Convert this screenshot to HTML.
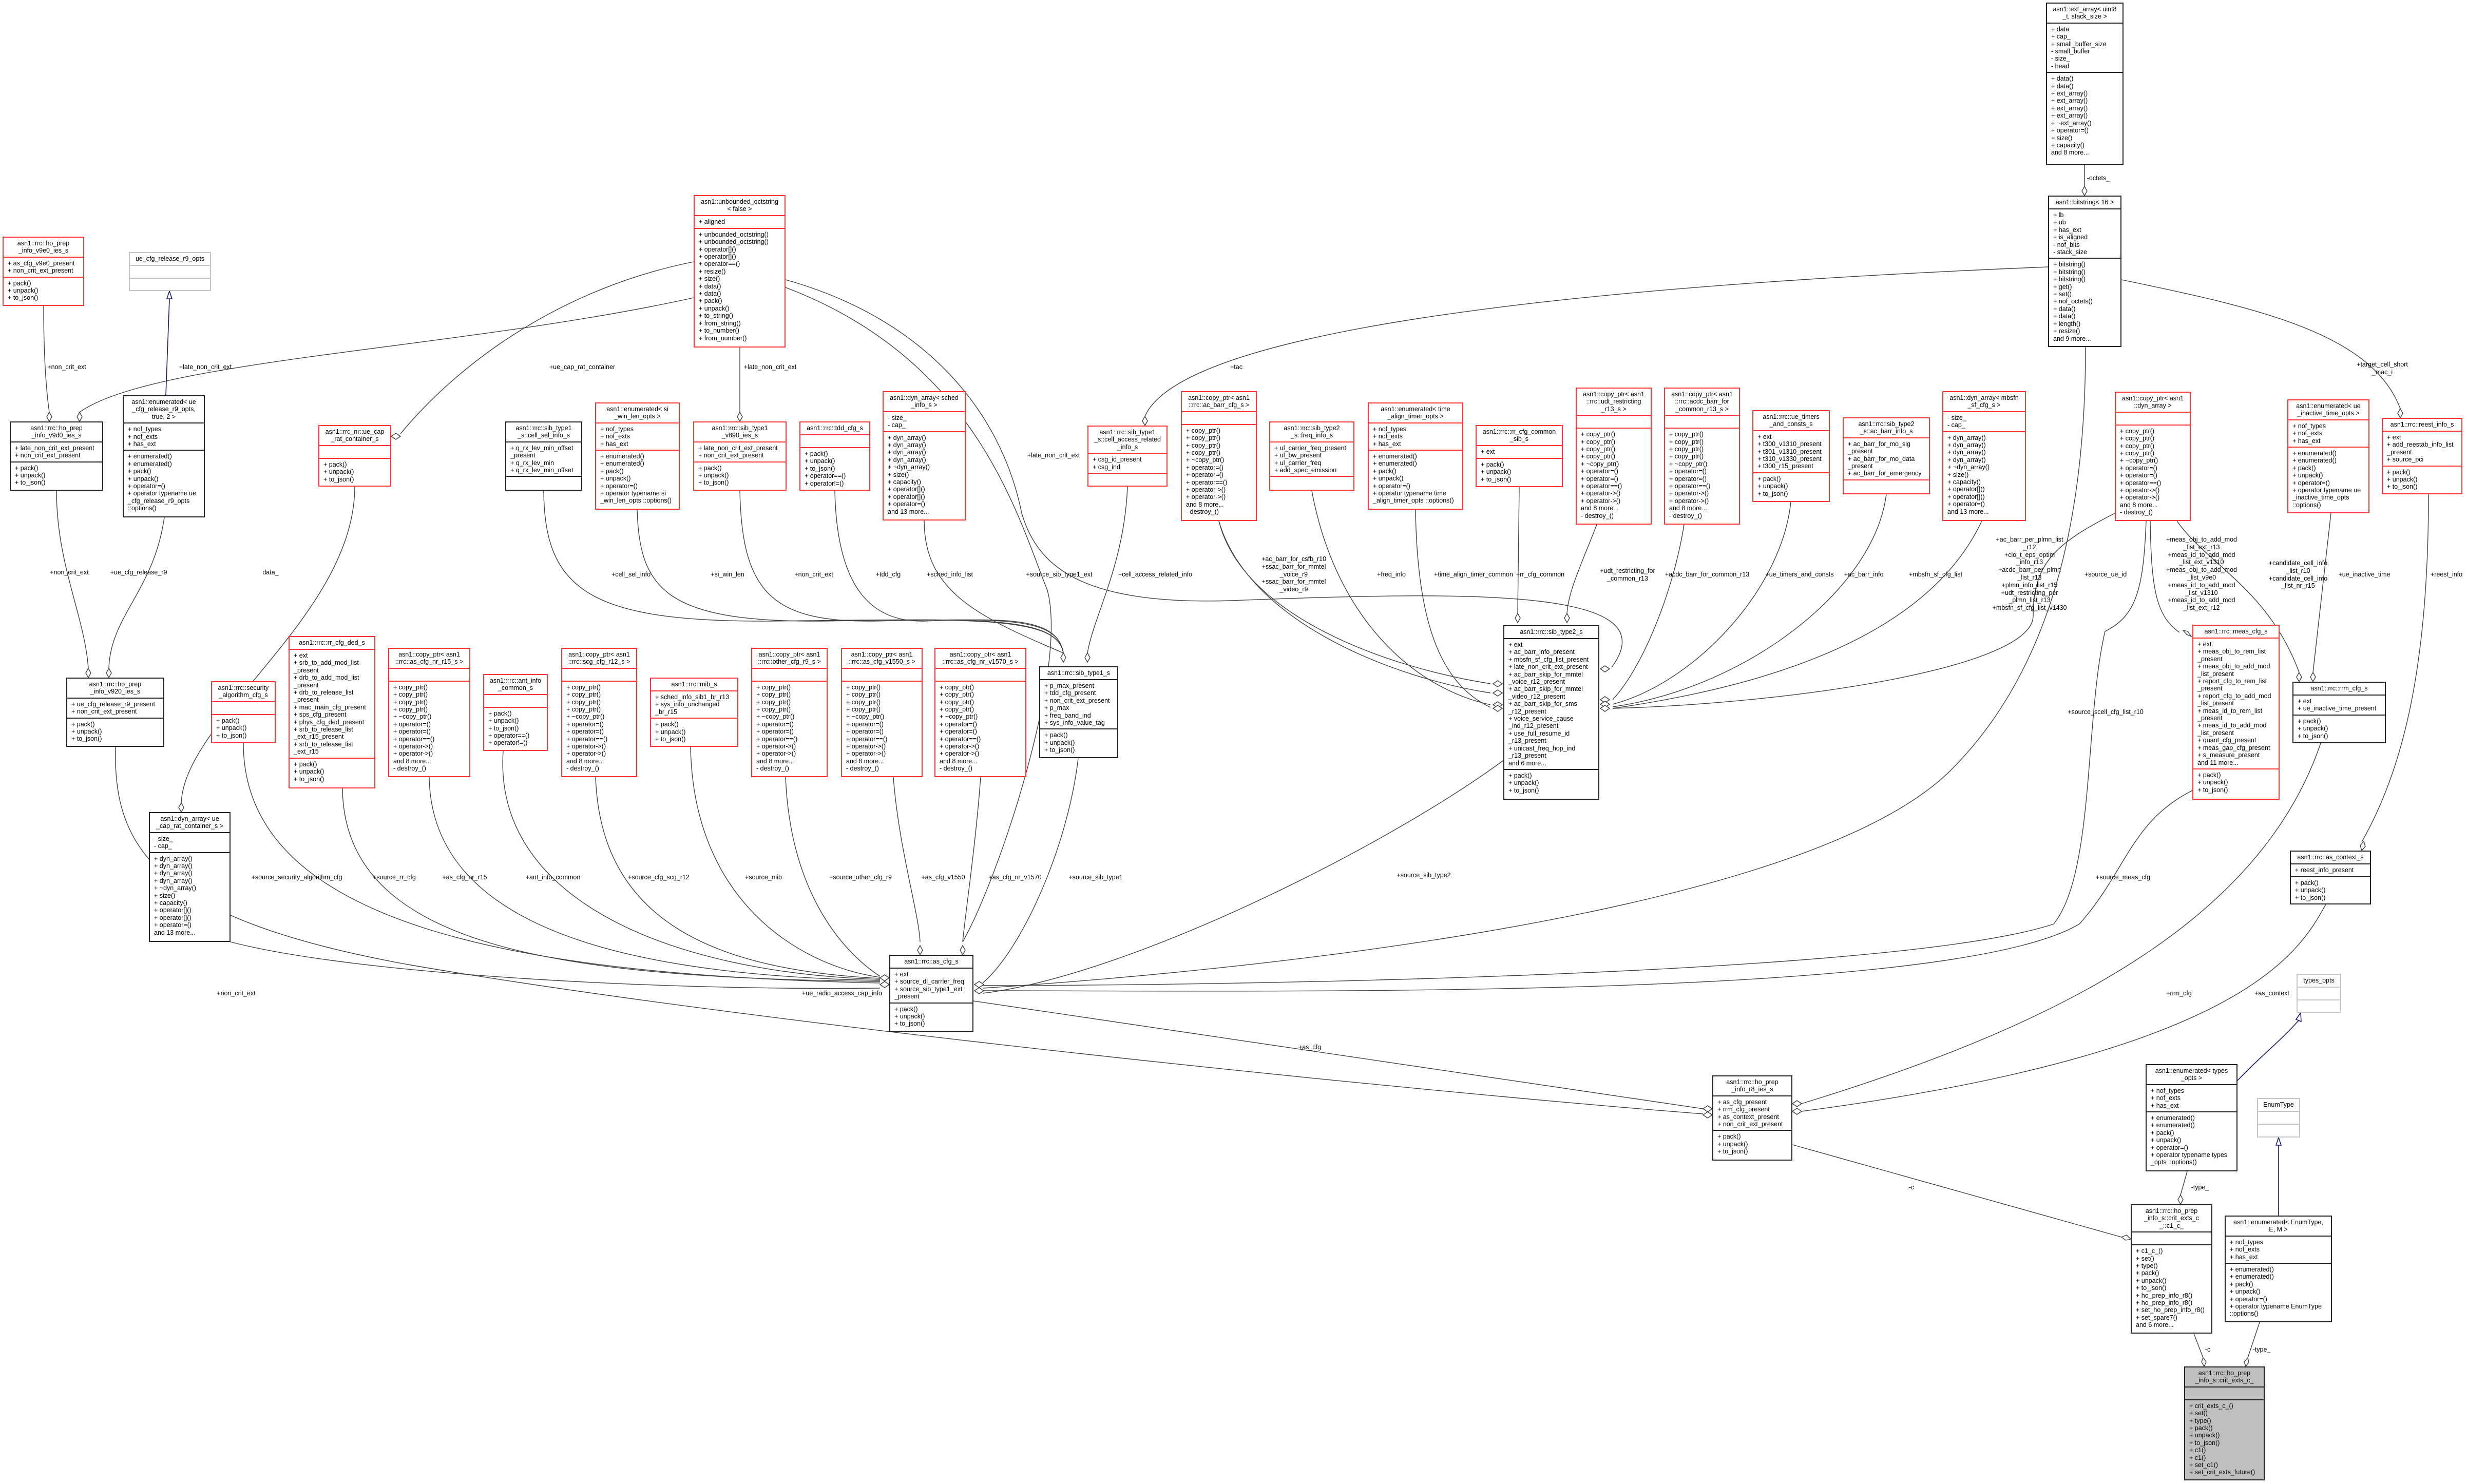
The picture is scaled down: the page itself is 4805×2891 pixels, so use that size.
<!DOCTYPE html>
<html><head><meta charset="utf-8"><style>
body{margin:0;width:4805px;height:2891px;position:relative;background:#fff;overflow:hidden}
.b{position:absolute;display:flex;flex-direction:column;border:2px solid #222;background:#fff;box-sizing:border-box;font:12.5px/14.4px "Liberation Sans",sans-serif;color:#000;overflow:hidden}
.r{border-color:#f33}
.g{border-color:#c4c4c4}
.x{background:#bfbfbf}
.b>div{padding:4px 8px;white-space:nowrap;border-top:2px solid;border-color:inherit;min-height:15px}
.b>div:first-child{border-top:0;text-align:center}
.b>div:last-child{flex:1}
.l{position:absolute;font:12.5px/14.8px "Liberation Sans",sans-serif;white-space:nowrap;text-align:center;transform:translateX(-50%)}
svg{position:absolute;left:0;top:0}
</style></head><body>
<svg width="4805" height="2891" viewBox="0 0 4805 2891">
<g fill="none" stroke="#404040" stroke-width="1.4">
<path d="M85,596 C85,700 90,760 96,803"/>
<path d="M1351,580 C900,680 300,700 155,803"/>
<path d="M110,956 C110,1100 165,1200 172,1302"/>
<path d="M320,1008 C300,1150 215,1200 212,1302"/>
<path d="M1351,510 C1100,560 900,700 780,845"/>
<path d="M691,948 C690,1200 360,1400 353,1564"/>
<path d="M1441,677 L1441,803"/>
<path d="M1530,545 C1800,620 1950,800 1990,1000 C2020,1100 2100,1180 2400,1170 C2900,1150 3250,1150 3139,1300"/>
<path d="M1530,560 C1900,700 1980,1000 2040,1150 C2080,1300 1950,1700 1875,1835"/>
<path d="M1059,956 C1060,1150 1150,1212 1500,1210 C1900,1205 2060,1200 2071,1272"/>
<path d="M1241,993 C1245,1150 1300,1212 1600,1210 C1900,1205 2060,1200 2071,1272"/>
<path d="M1441,956 C1445,1150 1500,1212 1700,1210 C1950,1205 2060,1200 2071,1272"/>
<path d="M1626,956 C1630,1150 1700,1212 1800,1210 C1950,1205 2060,1200 2071,1272"/>
<path d="M1800,1014 C1800,1150 1900,1200 2071,1272"/>
<path d="M2196,948 C2190,1100 2130,1200 2118,1272"/>
<path d="M2374,1015 C2420,1200 2700,1300 2903,1332"/>
<path d="M2374,1015 C2430,1210 2710,1320 2903,1350"/>
<path d="M2555,956 C2600,1200 2750,1340 2903,1373"/>
<path d="M2757,993 C2760,1200 2800,1330 2903,1378"/>
<path d="M2959,949 C2958,1050 2956,1150 2956,1195"/>
<path d="M3110,1022 C3080,1100 3055,1150 3052,1195"/>
<path d="M3280,1022 C3260,1150 3200,1300 3141,1363"/>
<path d="M3488,978 C3470,1150 3300,1330 3141,1372"/>
<path d="M3674,963 C3650,1150 3400,1340 3141,1377"/>
<path d="M3860,1015 C3820,1100 3700,1300 3141,1380"/>
<path d="M4119,1000 C4000,1060 3960,1100 3960,1200 C3960,1300 3500,1370 3141,1380"/>
<path d="M3989,520 C3000,560 2300,650 2230,811"/>
<path d="M4132,545 C4400,600 4620,650 4675,796"/>
<path d="M4060,321 L4060,363"/>
<path d="M4062,676 C4062,1000 4000,1300 3800,1500 C3500,1800 2300,1900 1914,1925"/>
<path d="M4188,1015 C4190,1150 4200,1200 4245,1232"/>
<path d="M4240,1015 C4300,1100 4420,1150 4478,1310"/>
<path d="M4180,1015 C4175,1150 4160,1200 4100,1230 C4060,1400 4080,1700 4000,1800 C3700,1900 2400,1920 1914,1920"/>
<path d="M4540,1000 L4505,1310"/>
<path d="M4730,963 C4730,1300 4680,1500 4600,1640"/>
<path d="M4270,1540 C4150,1600 4140,1700 4050,1800 C3800,1950 2500,1930 1914,1930"/>
<path d="M2930,1480 C2700,1650 2200,1900 1914,1935"/>
<path d="M2100,1477 C2080,1650 1990,1850 1914,1915"/>
<path d="M4520,1448 C4400,1800 4000,2000 3509,2150"/>
<path d="M4530,1762 C4480,1850 4380,2050 3509,2165"/>
<path d="M1896,1950 L3317,2160"/>
<path d="M225,1455 C220,1650 300,1790 800,1880 C1500,2000 2800,2130 3317,2170"/>
<path d="M474,1448 C474,1800 1000,1900 1714,1915"/>
<path d="M667,1536 C670,1850 1100,1905 1714,1912"/>
<path d="M836,1514 C840,1800 1200,1900 1714,1910"/>
<path d="M980,1463 C960,1750 1300,1895 1714,1908"/>
<path d="M1160,1514 C1170,1800 1400,1890 1714,1906"/>
<path d="M1345,1455 C1350,1750 1550,1880 1714,1904"/>
<path d="M1530,1514 C1540,1750 1650,1860 1714,1902"/>
<path d="M1740,1514 C1750,1650 1790,1780 1792,1835"/>
<path d="M1910,1514 C1900,1650 1880,1780 1875,1835"/>
<path d="M449,1835 C700,1900 1300,1930 1714,1925"/>
<path d="M3491,2230 L4132,2410"/>
<path d="M4260,2282 L4247,2328"/>
<path d="M4273,2598 L4291,2645"/>
<path d="M4401,2576 L4378,2645"/>
</g>
<g fill="#fff" stroke="#404040" stroke-width="1.4">
<polygon points="96,821 91,812 96,803 101,812"/>
<polygon points="155,821 150,812 155,803 160,812"/>
<polygon points="172,1320 167,1311 172,1302 177,1311"/>
<polygon points="212,1320 207,1311 212,1302 217,1311"/>
<polygon points="762,850 771,844 780,850 771,856"/>
<polygon points="353,1582 348,1573 353,1564 358,1573"/>
<polygon points="1441,821 1436,812 1441,803 1446,812"/>
<polygon points="3117,1303 3126,1297 3135,1303 3126,1309"/>
<polygon points="2071,1290 2066,1281 2071,1272 2076,1281"/>
<polygon points="2118,1290 2113,1281 2118,1272 2123,1281"/>
<polygon points="2956,1213 2951,1204 2956,1195 2961,1204"/>
<polygon points="3052,1213 3047,1204 3052,1195 3057,1204"/>
<polygon points="2926,1332 2917,1326 2908,1332 2917,1338"/>
<polygon points="2926,1350 2917,1344 2908,1350 2917,1356"/>
<polygon points="2926,1373 2917,1367 2908,1373 2917,1379"/>
<polygon points="2926,1380 2917,1374 2908,1380 2917,1386"/>
<polygon points="3117,1363 3126,1357 3135,1363 3126,1369"/>
<polygon points="3117,1372 3126,1366 3135,1372 3126,1378"/>
<polygon points="3117,1380 3126,1374 3135,1380 3126,1386"/>
<polygon points="2230,829 2225,820 2230,811 2235,820"/>
<polygon points="4675,814 4670,805 4675,796 4680,805"/>
<polygon points="4060,381 4055,372 4060,363 4065,372"/>
<polygon points="4268,1240 4259,1236 4252,1228 4261,1230"/>
<polygon points="4478,1328 4473,1319 4478,1310 4483,1319"/>
<polygon points="4505,1328 4500,1319 4505,1310 4510,1319"/>
<polygon points="4600,1657 4597,1647 4604,1639 4607,1649"/>
<polygon points="1792,1860 1787,1851 1792,1842 1797,1851"/>
<polygon points="1875,1860 1870,1851 1875,1842 1880,1851"/>
<polygon points="1732,1905 1723,1899 1714,1905 1723,1911"/>
<polygon points="1732,1918 1723,1912 1714,1918 1723,1924"/>
<polygon points="1898,1918 1907,1912 1916,1918 1907,1924"/>
<polygon points="1898,1930 1907,1924 1916,1930 1907,1936"/>
<polygon points="3335,2160 3326,2154 3317,2160 3326,2166"/>
<polygon points="3335,2172 3326,2166 3317,2172 3326,2178"/>
<polygon points="3491,2150 3500,2144 3509,2150 3500,2156"/>
<polygon points="3491,2165 3500,2159 3509,2165 3500,2171"/>
<polygon points="4150,2414 4140,2416 4132,2410 4142,2406"/>
<polygon points="4247,2346 4242,2337 4247,2328 4252,2337"/>
<polygon points="4293,2662 4288,2653 4291,2645 4297,2653"/>
<polygon points="4374,2662 4371,2653 4378,2645 4380,2654"/>
</g>
<g fill="none" stroke="#191970" stroke-width="1.6">
<path d="M323,770 L330,582"/>
<path d="M4358,2105 C4400,2060 4440,2030 4478,1987"/>
<path d="M4438,2368 L4438,2230"/>
</g>
<g fill="#fff" stroke="#191970" stroke-width="1.6">
<polygon points="330,567 325,582 335,582"/>
<polygon points="4481,1973 4472,1986 4482,1990"/>
<polygon points="4438,2216 4433,2231 4443,2231"/>
</g>
</svg>

<div class="b r" style="left:5px;top:461px;width:159px;height:135px"><div>asn1::rrc::ho_prep<br>_info_v9e0_ies_s</div><div>+ as_cfg_v9e0_present<br>+ non_crit_ext_present</div><div>+ pack()<br>+ unpack()<br>+ to_json()</div></div>
<div class="b g" style="left:251px;top:491px;width:160px;height:76px"><div>ue_cfg_release_r9_opts</div><div></div><div></div></div>
<div class="b" style="left:19px;top:821px;width:182px;height:135px"><div>asn1::rrc::ho_prep<br>_info_v9d0_ies_s</div><div>+ late_non_crit_ext_present<br>+ non_crit_ext_present</div><div>+ pack()<br>+ unpack()<br>+ to_json()</div></div>
<div class="b" style="left:239px;top:770px;width:160px;height:238px"><div>asn1::enumerated&lt; ue<br>_cfg_release_r9_opts,<br>true, 2 &gt;</div><div>+ nof_types<br>+ nof_exts<br>+ has_ext</div><div>+ enumerated()<br>+ enumerated()<br>+ pack()<br>+ unpack()<br>+ operator=()<br>+ operator typename ue<br>_cfg_release_r9_opts<br>::options()</div></div>
<div class="b r" style="left:620px;top:828px;width:142px;height:120px"><div>asn1::rrc_nr::ue_cap<br>_rat_container_s</div><div></div><div>+ pack()<br>+ unpack()<br>+ to_json()</div></div>
<div class="b r" style="left:1351px;top:380px;width:179px;height:297px"><div>asn1::unbounded_octstring<br>&lt; false &gt;</div><div>+ aligned</div><div>+ unbounded_octstring()<br>+ unbounded_octstring()<br>+ operator[]()<br>+ operator[]()<br>+ operator==()<br>+ resize()<br>+ size()<br>+ data()<br>+ data()<br>+ pack()<br>+ unpack()<br>+ to_string()<br>+ from_string()<br>+ to_number()<br>+ from_number()</div></div>
<div class="b" style="left:984px;top:821px;width:150px;height:135px"><div>asn1::rrc::sib_type1<br>_s::cell_sel_info_s</div><div style="text-align:left">+ q_rx_lev_min_offset<br>_present<br>+ q_rx_lev_min<br>+ q_rx_lev_min_offset</div><div></div></div>
<div class="b r" style="left:1159px;top:784px;width:165px;height:209px"><div>asn1::enumerated&lt; si<br>_win_len_opts &gt;</div><div>+ nof_types<br>+ nof_exts<br>+ has_ext</div><div>+ enumerated()<br>+ enumerated()<br>+ pack()<br>+ unpack()<br>+ operator=()<br>+ operator typename si<br>_win_len_opts ::options()</div></div>
<div class="b r" style="left:1350px;top:821px;width:182px;height:135px"><div>asn1::rrc::sib_type1<br>_v890_ies_s</div><div>+ late_non_crit_ext_present<br>+ non_crit_ext_present</div><div>+ pack()<br>+ unpack()<br>+ to_json()</div></div>
<div class="b r" style="left:1557px;top:821px;width:138px;height:135px"><div>asn1::rrc::tdd_cfg_s</div><div></div><div>+ pack()<br>+ unpack()<br>+ to_json()<br>+ operator==()<br>+ operator!=()</div></div>
<div class="b r" style="left:1719px;top:762px;width:162px;height:252px"><div>asn1::dyn_array&lt; sched<br>_info_s &gt;</div><div>- size_<br>- cap_</div><div>+ dyn_array()<br>+ dyn_array()<br>+ dyn_array()<br>+ dyn_array()<br>+ ~dyn_array()<br>+ size()<br>+ capacity()<br>+ operator[]()<br>+ operator[]()<br>+ operator=()<br>and 13 more...</div></div>
<div class="b r" style="left:2118px;top:829px;width:156px;height:119px"><div>asn1::rrc::sib_type1<br>_s::cell_access_related<br>_info_s</div><div>+ csg_id_present<br>+ csg_ind</div><div></div></div>
<div class="b r" style="left:2300px;top:762px;width:148px;height:253px"><div>asn1::copy_ptr&lt; asn1<br>::rrc::ac_barr_cfg_s &gt;</div><div></div><div>+ copy_ptr()<br>+ copy_ptr()<br>+ copy_ptr()<br>+ copy_ptr()<br>+ ~copy_ptr()<br>+ operator=()<br>+ operator=()<br>+ operator==()<br>+ operator-&gt;()<br>+ operator-&gt;()<br>and 8 more...<br>- destroy_()</div></div>
<div class="b r" style="left:2472px;top:821px;width:166px;height:135px"><div>asn1::rrc::sib_type2<br>_s::freq_info_s</div><div>+ ul_carrier_freq_present<br>+ ul_bw_present<br>+ ul_carrier_freq<br>+ add_spec_emission</div><div></div></div>
<div class="b r" style="left:2664px;top:784px;width:186px;height:209px"><div>asn1::enumerated&lt; time<br>_align_timer_opts &gt;</div><div>+ nof_types<br>+ nof_exts<br>+ has_ext</div><div>+ enumerated()<br>+ enumerated()<br>+ pack()<br>+ unpack()<br>+ operator=()<br>+ operator typename time<br>_align_timer_opts ::options()</div></div>
<div class="b r" style="left:2874px;top:828px;width:170px;height:121px"><div>asn1::rrc::rr_cfg_common<br>_sib_s</div><div>+ ext</div><div>+ pack()<br>+ unpack()<br>+ to_json()</div></div>
<div class="b r" style="left:3069px;top:755px;width:148px;height:267px"><div>asn1::copy_ptr&lt; asn1<br>::rrc::udt_restricting<br>_r13_s &gt;</div><div></div><div>+ copy_ptr()<br>+ copy_ptr()<br>+ copy_ptr()<br>+ copy_ptr()<br>+ ~copy_ptr()<br>+ operator=()<br>+ operator=()<br>+ operator==()<br>+ operator-&gt;()<br>+ operator-&gt;()<br>and 8 more...<br>- destroy_()</div></div>
<div class="b r" style="left:3241px;top:755px;width:148px;height:267px"><div>asn1::copy_ptr&lt; asn1<br>::rrc::acdc_barr_for<br>_common_r13_s &gt;</div><div></div><div>+ copy_ptr()<br>+ copy_ptr()<br>+ copy_ptr()<br>+ copy_ptr()<br>+ ~copy_ptr()<br>+ operator=()<br>+ operator=()<br>+ operator==()<br>+ operator-&gt;()<br>+ operator-&gt;()<br>and 8 more...<br>- destroy_()</div></div>
<div class="b r" style="left:3413px;top:799px;width:151px;height:179px"><div>asn1::rrc::ue_timers<br>_and_consts_s</div><div>+ ext<br>+ t300_v1310_present<br>+ t301_v1310_present<br>+ t310_v1330_present<br>+ t300_r15_present</div><div>+ pack()<br>+ unpack()<br>+ to_json()</div></div>
<div class="b r" style="left:3589px;top:813px;width:170px;height:150px"><div>asn1::rrc::sib_type2<br>_s::ac_barr_info_s</div><div>+ ac_barr_for_mo_sig<br>_present<br>+ ac_barr_for_mo_data<br>_present<br>+ ac_barr_for_emergency</div><div></div></div>
<div class="b r" style="left:3783px;top:762px;width:163px;height:253px"><div>asn1::dyn_array&lt; mbsfn<br>_sf_cfg_s &gt;</div><div>- size_<br>- cap_</div><div>+ dyn_array()<br>+ dyn_array()<br>+ dyn_array()<br>+ dyn_array()<br>+ ~dyn_array()<br>+ size()<br>+ capacity()<br>+ operator[]()<br>+ operator[]()<br>+ operator=()<br>and 13 more...</div></div>
<div class="b" style="left:3985px;top:5px;width:151px;height:316px"><div>asn1::ext_array&lt; uint8<br>_t, stack_size &gt;</div><div>+ data<br>+ cap_<br>+ small_buffer_size<br>- small_buffer<br>- size_<br>- head</div><div>+ data()<br>+ data()<br>+ ext_array()<br>+ ext_array()<br>+ ext_array()<br>+ ext_array()<br>+ ~ext_array()<br>+ operator=()<br>+ size()<br>+ capacity()<br>and 8 more...</div></div>
<div class="b" style="left:3989px;top:381px;width:143px;height:295px"><div>asn1::bitstring&lt; 16 &gt;</div><div>+ lb<br>+ ub<br>+ has_ext<br>+ is_aligned<br>- nof_bits<br>- stack_size</div><div>+ bitstring()<br>+ bitstring()<br>+ bitstring()<br>+ get()<br>+ set()<br>+ nof_octets()<br>+ data()<br>+ data()<br>+ length()<br>+ resize()<br>and 9 more...</div></div>
<div class="b r" style="left:4119px;top:763px;width:148px;height:252px"><div>asn1::copy_ptr&lt; asn1<br>::dyn_array &gt;</div><div></div><div>+ copy_ptr()<br>+ copy_ptr()<br>+ copy_ptr()<br>+ copy_ptr()<br>+ ~copy_ptr()<br>+ operator=()<br>+ operator=()<br>+ operator==()<br>+ operator-&gt;()<br>+ operator-&gt;()<br>and 8 more...<br>- destroy_()</div></div>
<div class="b r" style="left:4455px;top:778px;width:160px;height:222px"><div>asn1::enumerated&lt; ue<br>_inactive_time_opts &gt;</div><div>+ nof_types<br>+ nof_exts<br>+ has_ext</div><div>+ enumerated()<br>+ enumerated()<br>+ pack()<br>+ unpack()<br>+ operator=()<br>+ operator typename ue<br>_inactive_time_opts<br>::options()</div></div>
<div class="b r" style="left:4639px;top:814px;width:157px;height:149px"><div>asn1::rrc::reest_info_s</div><div>+ ext<br>+ add_reestab_info_list<br>_present<br>+ source_pci</div><div>+ pack()<br>+ unpack()<br>+ to_json()</div></div>

<div class="b" style="left:129px;top:1320px;width:191px;height:135px"><div>asn1::rrc::ho_prep<br>_info_v920_ies_s</div><div>+ ue_cfg_release_r9_present<br>+ non_crit_ext_present</div><div>+ pack()<br>+ unpack()<br>+ to_json()</div></div>
<div class="b" style="left:290px;top:1582px;width:159px;height:253px"><div>asn1::dyn_array&lt; ue<br>_cap_rat_container_s &gt;</div><div>- size_<br>- cap_</div><div>+ dyn_array()<br>+ dyn_array()<br>+ dyn_array()<br>+ dyn_array()<br>+ ~dyn_array()<br>+ size()<br>+ capacity()<br>+ operator[]()<br>+ operator[]()<br>+ operator=()<br>and 13 more...</div></div>
<div class="b r" style="left:411px;top:1327px;width:126px;height:121px"><div>asn1::rrc::security<br>_algorithm_cfg_s</div><div></div><div>+ pack()<br>+ unpack()<br>+ to_json()</div></div>
<div class="b r" style="left:562px;top:1239px;width:169px;height:297px"><div>asn1::rrc::rr_cfg_ded_s</div><div>+ ext<br>+ srb_to_add_mod_list<br>_present<br>+ drb_to_add_mod_list<br>_present<br>+ drb_to_release_list<br>_present<br>+ mac_main_cfg_present<br>+ sps_cfg_present<br>+ phys_cfg_ded_present<br>+ srb_to_release_list<br>_ext_r15_present<br>+ srb_to_release_list<br>_ext_r15</div><div>+ pack()<br>+ unpack()<br>+ to_json()</div></div>
<div class="b r" style="left:756px;top:1262px;width:160px;height:252px"><div>asn1::copy_ptr&lt; asn1<br>::rrc::as_cfg_nr_r15_s &gt;</div><div></div><div>+ copy_ptr()<br>+ copy_ptr()<br>+ copy_ptr()<br>+ copy_ptr()<br>+ ~copy_ptr()<br>+ operator=()<br>+ operator=()<br>+ operator==()<br>+ operator-&gt;()<br>+ operator-&gt;()<br>and 8 more...<br>- destroy_()</div></div>
<div class="b r" style="left:941px;top:1313px;width:126px;height:150px"><div>asn1::rrc::ant_info<br>_common_s</div><div></div><div>+ pack()<br>+ unpack()<br>+ to_json()<br>+ operator==()<br>+ operator!=()</div></div>
<div class="b r" style="left:1093px;top:1262px;width:148px;height:252px"><div>asn1::copy_ptr&lt; asn1<br>::rrc::scg_cfg_r12_s &gt;</div><div></div><div>+ copy_ptr()<br>+ copy_ptr()<br>+ copy_ptr()<br>+ copy_ptr()<br>+ ~copy_ptr()<br>+ operator=()<br>+ operator=()<br>+ operator==()<br>+ operator-&gt;()<br>+ operator-&gt;()<br>and 8 more...<br>- destroy_()</div></div>
<div class="b r" style="left:1266px;top:1320px;width:172px;height:135px"><div>asn1::rrc::mib_s</div><div>+ sched_info_sib1_br_r13<br>+ sys_info_unchanged<br>_br_r15</div><div>+ pack()<br>+ unpack()<br>+ to_json()</div></div>
<div class="b r" style="left:1463px;top:1262px;width:149px;height:252px"><div>asn1::copy_ptr&lt; asn1<br>::rrc::other_cfg_r9_s &gt;</div><div></div><div>+ copy_ptr()<br>+ copy_ptr()<br>+ copy_ptr()<br>+ copy_ptr()<br>+ ~copy_ptr()<br>+ operator=()<br>+ operator=()<br>+ operator==()<br>+ operator-&gt;()<br>+ operator-&gt;()<br>and 8 more...<br>- destroy_()</div></div>
<div class="b r" style="left:1638px;top:1262px;width:159px;height:252px"><div>asn1::copy_ptr&lt; asn1<br>::rrc::as_cfg_v1550_s &gt;</div><div></div><div>+ copy_ptr()<br>+ copy_ptr()<br>+ copy_ptr()<br>+ copy_ptr()<br>+ ~copy_ptr()<br>+ operator=()<br>+ operator=()<br>+ operator==()<br>+ operator-&gt;()<br>+ operator-&gt;()<br>and 8 more...<br>- destroy_()</div></div>
<div class="b r" style="left:1820px;top:1262px;width:179px;height:252px"><div>asn1::copy_ptr&lt; asn1<br>::rrc::as_cfg_nr_v1570_s &gt;</div><div></div><div>+ copy_ptr()<br>+ copy_ptr()<br>+ copy_ptr()<br>+ copy_ptr()<br>+ ~copy_ptr()<br>+ operator=()<br>+ operator=()<br>+ operator==()<br>+ operator-&gt;()<br>+ operator-&gt;()<br>and 8 more...<br>- destroy_()</div></div>
<div class="b" style="left:2024px;top:1298px;width:154px;height:179px"><div>asn1::rrc::sib_type1_s</div><div>+ p_max_present<br>+ tdd_cfg_present<br>+ non_crit_ext_present<br>+ p_max<br>+ freq_band_ind<br>+ sys_info_value_tag</div><div>+ pack()<br>+ unpack()<br>+ to_json()</div></div>
<div class="b" style="left:2928px;top:1218px;width:187px;height:340px"><div>asn1::rrc::sib_type2_s</div><div>+ ext<br>+ ac_barr_info_present<br>+ mbsfn_sf_cfg_list_present<br>+ late_non_crit_ext_present<br>+ ac_barr_skip_for_mmtel<br>_voice_r12_present<br>+ ac_barr_skip_for_mmtel<br>_video_r12_present<br>+ ac_barr_skip_for_sms<br>_r12_present<br>+ voice_service_cause<br>_ind_r12_present<br>+ use_full_resume_id<br>_r13_present<br>+ unicast_freq_hop_ind<br>_r13_present<br>and 6 more...</div><div>+ pack()<br>+ unpack()<br>+ to_json()</div></div>
<div class="b r" style="left:4270px;top:1217px;width:170px;height:341px"><div>asn1::rrc::meas_cfg_s</div><div>+ ext<br>+ meas_obj_to_rem_list<br>_present<br>+ meas_obj_to_add_mod<br>_list_present<br>+ report_cfg_to_rem_list<br>_present<br>+ report_cfg_to_add_mod<br>_list_present<br>+ meas_id_to_rem_list<br>_present<br>+ meas_id_to_add_mod<br>_list_present<br>+ quant_cfg_present<br>+ meas_gap_cfg_present<br>+ s_measure_present<br>and 11 more...</div><div>+ pack()<br>+ unpack()<br>+ to_json()</div></div>
<div class="b" style="left:4465px;top:1328px;width:182px;height:120px"><div>asn1::rrc::rrm_cfg_s</div><div>+ ext<br>+ ue_inactive_time_present</div><div>+ pack()<br>+ unpack()<br>+ to_json()</div></div>
<div class="b" style="left:4460px;top:1657px;width:158px;height:105px"><div>asn1::rrc::as_context_s</div><div>+ reest_info_present</div><div>+ pack()<br>+ unpack()<br>+ to_json()</div></div>
<div class="b" style="left:1732px;top:1860px;width:164px;height:150px"><div>asn1::rrc::as_cfg_s</div><div>+ ext<br>+ source_dl_carrier_freq<br>+ source_sib_type1_ext<br>_present</div><div>+ pack()<br>+ unpack()<br>+ to_json()</div></div>
<div class="b g" style="left:4473px;top:1897px;width:87px;height:76px"><div>types_opts</div><div></div><div></div></div>
<div class="b" style="left:3335px;top:2095px;width:156px;height:166px"><div>asn1::rrc::ho_prep<br>_info_r8_ies_s</div><div>+ as_cfg_present<br>+ rrm_cfg_present<br>+ as_context_present<br>+ non_crit_ext_present</div><div>+ pack()<br>+ unpack()<br>+ to_json()</div></div>
<div class="b" style="left:4179px;top:2073px;width:179px;height:209px"><div>asn1::enumerated&lt; types<br>_opts &gt;</div><div>+ nof_types<br>+ nof_exts<br>+ has_ext</div><div>+ enumerated()<br>+ enumerated()<br>+ pack()<br>+ unpack()<br>+ operator=()<br>+ operator typename types<br>_opts ::options()</div></div>
<div class="b g" style="left:4396px;top:2139px;width:84px;height:77px"><div>EnumType</div><div></div><div></div></div>
<div class="b" style="left:4150px;top:2346px;width:159px;height:252px"><div>asn1::rrc::ho_prep<br>_info_s::crit_exts_c<br>_::c1_c_</div><div></div><div>+ c1_c_()<br>+ set()<br>+ type()<br>+ pack()<br>+ unpack()<br>+ to_json()<br>+ ho_prep_info_r8()<br>+ ho_prep_info_r8()<br>+ set_ho_prep_info_r8()<br>+ set_spare7()<br>and 6 more...</div></div>
<div class="b" style="left:4333px;top:2368px;width:209px;height:208px"><div>asn1::enumerated&lt; EnumType,<br>E, M &gt;</div><div>+ nof_types<br>+ nof_exts<br>+ has_ext</div><div>+ enumerated()<br>+ enumerated()<br>+ pack()<br>+ unpack()<br>+ operator=()<br>+ operator typename EnumType<br>::options()</div></div>
<div class="b x" style="left:4254px;top:2662px;width:157px;height:222px"><div>asn1::rrc::ho_prep<br>_info_s::crit_exts_c_</div><div></div><div>+ crit_exts_c_()<br>+ set()<br>+ type()<br>+ pack()<br>+ unpack()<br>+ to_json()<br>+ c1()<br>+ c1()<br>+ set_c1()<br>+ set_crit_exts_future()</div></div>

<div class="l" style="left:130px;top:708px">+non_crit_ext</div>
<div class="l" style="left:400px;top:708px">+late_non_crit_ext</div>
<div class="l" style="left:1134px;top:708px">+ue_cap_rat_container</div>
<div class="l" style="left:1500px;top:708px">+late_non_crit_ext</div>
<div class="l" style="left:2052px;top:880px">+late_non_crit_ext</div>
<div class="l" style="left:2408px;top:708px">+tac</div>
<div class="l" style="left:4087px;top:340px">-octets_</div>
<div class="l" style="left:4640px;top:703px">+target_cell_short<br>_mac_i</div>
<div class="l" style="left:135px;top:1108px">+non_crit_ext</div>
<div class="l" style="left:270px;top:1108px">+ue_cfg_release_r9</div>
<div class="l" style="left:527px;top:1108px">data_</div>
<div class="l" style="left:1229px;top:1112px">+cell_sel_info</div>
<div class="l" style="left:1417px;top:1112px">+si_win_len</div>
<div class="l" style="left:1585px;top:1112px">+non_crit_ext</div>
<div class="l" style="left:1730px;top:1112px">+tdd_cfg</div>
<div class="l" style="left:1850px;top:1112px">+sched_info_list</div>
<div class="l" style="left:2063px;top:1112px">+source_sib_type1_ext</div>
<div class="l" style="left:2250px;top:1112px">+cell_access_related_info</div>
<div class="l" style="left:2520px;top:1082px">+ac_barr_for_csfb_r10<br>+ssac_barr_for_mmtel<br>_voice_r9<br>+ssac_barr_for_mmtel<br>_video_r9</div>
<div class="l" style="left:2710px;top:1112px">+freq_info</div>
<div class="l" style="left:2870px;top:1112px">+time_align_timer_common</div>
<div class="l" style="left:3000px;top:1112px">+rr_cfg_common</div>
<div class="l" style="left:3170px;top:1105px">+udt_restricting_for<br>_common_r13</div>
<div class="l" style="left:3325px;top:1112px">+acdc_barr_for_common_r13</div>
<div class="l" style="left:3505px;top:1112px">+ue_timers_and_consts</div>
<div class="l" style="left:3630px;top:1112px">+ac_barr_info</div>
<div class="l" style="left:3770px;top:1112px">+mbsfn_sf_cfg_list</div>
<div class="l" style="left:3953px;top:1044px">+ac_barr_per_plmn_list<br>_r12<br>+cio_t_eps_optim<br>_info_r13<br>+acdc_barr_per_plmn<br>_list_r13<br>+plmn_info_list_r15<br>+udt_restricting_per<br>_plmn_list_r13<br>+mbsfn_sf_cfg_list_v1430</div>
<div class="l" style="left:4101px;top:1112px">+source_ue_id</div>
<div class="l" style="left:4288px;top:1044px">+meas_obj_to_add_mod<br>_list_ext_r13<br>+meas_id_to_add_mod<br>_list_ext_v1310<br>+meas_obj_to_add_mod<br>_list_v9e0<br>+meas_id_to_add_mod<br>_list_v1310<br>+meas_id_to_add_mod<br>_list_ext_r12</div>
<div class="l" style="left:4476px;top:1090px">+candidate_cell_info<br>_list_r10<br>+candidate_cell_info<br>_list_nr_r15</div>
<div class="l" style="left:4605px;top:1112px">+ue_inactive_time</div>
<div class="l" style="left:4765px;top:1112px">+reest_info</div>
<div class="l" style="left:4101px;top:1380px">+source_scell_cfg_list_r10</div>
<div class="l" style="left:578px;top:1702px">+source_security_algorithm_cfg</div>
<div class="l" style="left:768px;top:1702px">+source_rr_cfg</div>
<div class="l" style="left:905px;top:1702px">+as_cfg_nr_r15</div>
<div class="l" style="left:1077px;top:1702px">+ant_info_common</div>
<div class="l" style="left:1283px;top:1702px">+source_cfg_scg_r12</div>
<div class="l" style="left:1487px;top:1702px">+source_mib</div>
<div class="l" style="left:1676px;top:1702px">+source_other_cfg_r9</div>
<div class="l" style="left:1837px;top:1702px">+as_cfg_v1550</div>
<div class="l" style="left:1977px;top:1702px">+as_cfg_nr_v1570</div>
<div class="l" style="left:2134px;top:1702px">+source_sib_type1</div>
<div class="l" style="left:2773px;top:1698px">+source_sib_type2</div>
<div class="l" style="left:4135px;top:1702px">+source_meas_cfg</div>
<div class="l" style="left:1640px;top:1928px">+ue_radio_access_cap_info</div>
<div class="l" style="left:460px;top:1928px">+non_crit_ext</div>
<div class="l" style="left:2551px;top:2033px">+as_cfg</div>
<div class="l" style="left:4244px;top:1928px">+rrm_cfg</div>
<div class="l" style="left:4425px;top:1928px">+as_context</div>
<div class="l" style="left:3723px;top:2306px">-c</div>
<div class="l" style="left:4285px;top:2306px">-type_</div>
<div class="l" style="left:4300px;top:2622px">-c</div>
<div class="l" style="left:4405px;top:2622px">-type_</div>
</body></html>
